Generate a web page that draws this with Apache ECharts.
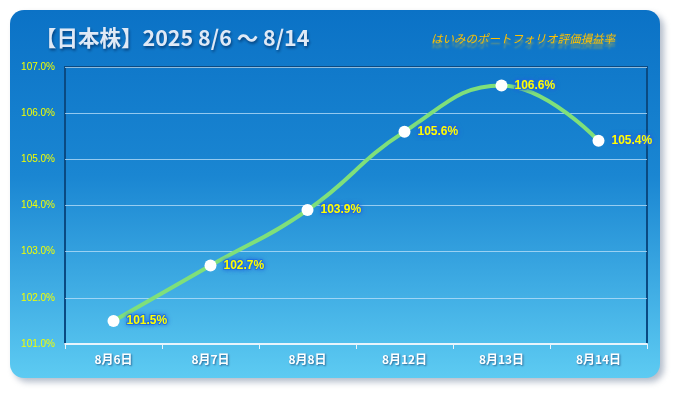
<!DOCTYPE html>
<html><head><meta charset="utf-8">
<style>html,body{margin:0;padding:0;background:#fff;}#c{width:675px;height:393px;}</style>
<script src="https://cdn.jsdelivr.net/npm/echarts@6/dist/echarts.min.js"></script>
</head><body><div id="c"></div>
<script>
const categories = ['8月6日','8月7日','8月8日','8月12日','8月13日','8月14日'];
const values = [101.5, 102.7, 103.9, 105.6, 106.6, 105.4];
const titleText = '【日本株】2025 8/6 ～ 8/14';
const subTitleText = 'はいみのポートフォリオ評価損益率';
const yMin = 101, yMax = 107, yInterval = 1;

const chart = echarts.init(document.getElementById('c'), null, {renderer:'canvas'});
const jp = '"Noto Sans CJK JP", "Noto Sans", sans-serif';
chart.setOption({
  animation:false,
  graphic:[
    {type:'rect', z:-10, shape:{x:10,y:10,width:650,height:368,r:14},
     style:{fill:new echarts.graphic.LinearGradient(0,0,0,1,[{offset:0,color:'#0b72c6'},{offset:0.45,color:'#1a86d2'},{offset:1,color:'#5dcbf2'}]),
       shadowBlur:6, shadowOffsetX:4, shadowOffsetY:4, shadowColor:'rgba(90,110,140,0.45)'}},
    {type:'text', left:35, top:27, z:10,
     style:{text:titleText, font:'bold 21.5px '+jp, fill:'#dfe9f6',
       textShadowColor:'rgba(0,40,90,0.7)', textShadowBlur:3, textShadowOffsetX:1, textShadowOffsetY:2}},
    {type:'text', left:431, top:33, z:10,
     style:{text:subTitleText, font:'italic 11.5px '+jp, fill:'#ffc000',
       textShadowColor:'rgba(255,200,0,0.45)', textShadowBlur:2, textShadowOffsetX:0, textShadowOffsetY:5}}
  ],
  grid:{left:65, right:28, top:67, bottom:49, show:true, borderColor:'#0a4a82', borderWidth:2, backgroundColor:'transparent'},
  xAxis:{type:'category', data:categories, boundaryGap:true,
    axisLine:{lineStyle:{color:'#e8f4fc', width:2}},
    axisTick:{show:true, length:5, lineStyle:{color:'#e8f4fc'}},
    axisLabel:{color:'#ffffff', fontWeight:'bold', fontSize:12, fontFamily:jp, margin:9,
      textShadowColor:'rgba(20,60,110,0.7)', textShadowBlur:2, textShadowOffsetX:1, textShadowOffsetY:1},
    splitLine:{show:false}},
  yAxis:{type:'value', min:yMin, max:yMax, interval:yInterval,
    axisLine:{show:false}, axisTick:{show:false},
    axisLabel:{color:'#f2ff00', fontSize:10, fontFamily:'"Liberation Sans", Arial, sans-serif', margin:10,
      formatter:v=>v.toFixed(1)+'%'},
    splitLine:{lineStyle:{color:'rgba(190,225,250,0.75)', width:1}}},
  series:[{type:'line', data:values, smooth:0.45,
    lineStyle:{color:'#7fe07a', width:4},
    symbol:'circle', symbolSize:12,
    itemStyle:{color:'#ffffff', borderWidth:0},
    label:{show:true, position:'right', distance:7, formatter:p=>p.value.toFixed(1)+'%',
      color:'#ffff00', fontWeight:'bold', fontSize:12, fontFamily:'"Liberation Sans", Arial, sans-serif',
      textBorderColor:'rgba(30,110,220,0.85)', textBorderWidth:2,
      textShadowColor:'rgba(30,100,220,0.8)', textShadowBlur:4}
  }]
});
</script></body></html>
